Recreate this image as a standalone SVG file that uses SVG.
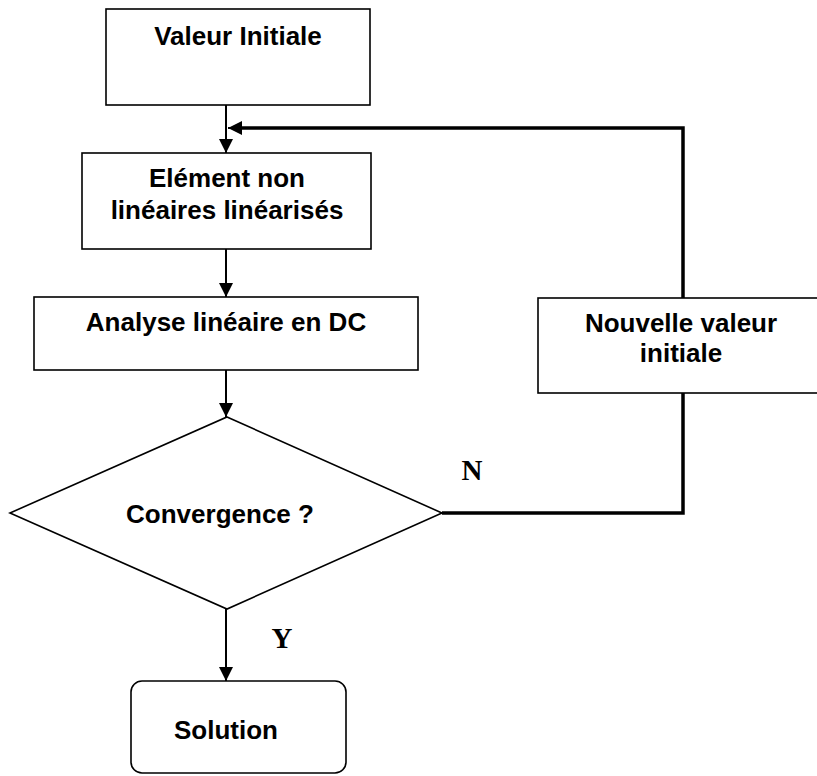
<svg xmlns="http://www.w3.org/2000/svg" width="817" height="776" viewBox="0 0 817 776">
<style>
.box{fill:#fff;stroke:#000;stroke-width:1.6}
.t{font-family:"Liberation Sans",Arial,sans-serif;font-weight:bold;font-size:26px;fill:#000;text-anchor:middle}
.lbl{font-family:"Liberation Serif","Times New Roman",serif;font-weight:bold;font-size:29px;fill:#000;text-anchor:middle}
.c{fill:none;stroke:#000;stroke-width:2}
.fb{fill:none;stroke:#000;stroke-width:3.5;stroke-linejoin:miter}
</style>
<defs>
<marker id="ah" viewBox="0 0 14 14" refX="14" refY="7" markerWidth="14" markerHeight="14" markerUnits="userSpaceOnUse" orient="auto">
<path d="M0,0 L14,7 L0,14 z" fill="#000"/>
</marker>
</defs>
<rect width="817" height="776" fill="#fff"/>
<g id="connectors">
<line class="c" x1="226" y1="105" x2="226" y2="153" marker-end="url(#ah)"/>
<line class="c" x1="226" y1="249" x2="226" y2="297" marker-end="url(#ah)"/>
<line class="c" x1="226" y1="370" x2="226" y2="417" marker-end="url(#ah)"/>
<line class="c" x1="226" y1="609" x2="226" y2="681" marker-end="url(#ah)"/>
<polyline class="fb" points="442,513 683,513 683,393"/>
<polyline class="fb" points="683,298 683,128 242,128"/>
<line class="c" x1="242" y1="128" x2="228" y2="128" marker-end="url(#ah)"/>
<text class="lbl" x="472" y="480">N</text>
<text class="lbl" x="282" y="648">Y</text>
</g>
<g id="valeur-initiale">
<rect class="box" x="106" y="9" width="264" height="96"/>
<text class="t" x="238" y="45">Valeur Initiale</text>
</g>
<g id="element-non-lineaires">
<rect class="box" x="82" y="153" width="289" height="96"/>
<text class="t" x="227" y="187">Elément non</text>
<text class="t" x="227" y="219">linéaires linéarisés</text>
</g>
<g id="analyse-lineaire">
<rect class="box" x="34" y="297" width="384" height="73"/>
<text class="t" x="226" y="331">Analyse linéaire en DC</text>
</g>
<g id="convergence">
<polygon class="box" points="227,417 442,513 227,609 10,513"/>
<text class="t" x="220" y="523">Convergence ?</text>
</g>
<g id="nouvelle-valeur">
<rect class="box" x="538" y="298" width="290" height="95"/>
<text class="t" x="681" y="332">Nouvelle valeur</text>
<text class="t" x="681" y="362">initiale</text>
</g>
<g id="solution">
<rect class="box" x="131" y="681" width="215" height="92" rx="11" ry="11"/>
<text class="t" x="226" y="739">Solution</text>
</g>
</svg>
